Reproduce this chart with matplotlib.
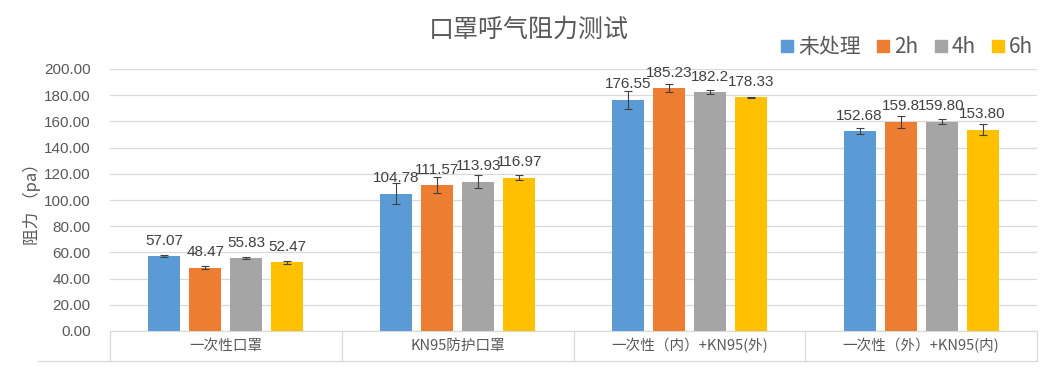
import matplotlib.pyplot as plt
import numpy as np
from matplotlib.lines import Line2D

plt.rcParams['font.family'] = ['Noto Sans CJK SC', 'DejaVu Sans']

categories = ["一次性口罩", "KN95防护口罩", "一次性（内）+KN95(外)", "一次性（外）+KN95(内)"]
series_names = ["未处理", "2h", "4h", "6h"]
values = [
    [57.07, 104.78, 176.55, 152.68],
    [48.47, 111.57, 185.23, 159.80],
    [55.83, 113.93, 182.20, 159.80],
    [52.47, 116.97, 178.33, 153.80],
]
errors = [
    [0.6, 8.0, 7.0, 2.0],
    [1.5, 6.0, 3.0, 4.5],
    [0.6, 5.0, 1.5, 2.0],
    [1.0, 2.0, 0.5, 4.5],
]
labels = [
    ["57.07", "104.78", "176.55", "152.68"],
    ["48.47", "111.57", "185.23", "159.8"],
    ["55.83", "113.93", "182.2", "159.80"],
    ["52.47", "116.97", "178.33", "153.80"],
]
colors = ["#5B9BD5", "#ED7D31", "#A5A5A5", "#FFC000"]
y_ticks = [0, 20, 40, 60, 80, 100, 120, 140, 160, 180, 200]

grid_color = "#D9D9D9"
text_color = "#595959"
narrow = ["Liberation Sans", "DejaVu Sans"]

fig = plt.figure(figsize=(10.57, 3.92), dpi=100)
ax = fig.add_axes([110 / 1057, 61 / 392, 927 / 1057, 262 / 392])

x = np.arange(len(categories))
width = 0.138
pitch = 0.177
for i, name in enumerate(series_names):
    pos = x + (i - 1.5) * pitch
    ax.bar(pos, values[i], width, color=colors[i], label=name, zorder=3,
           yerr=errors[i], error_kw=dict(ecolor="#404040", elinewidth=0.8, capsize=3, capthick=0.8))
    for p, v, lab in zip(pos, values[i], labels[i]):
        ax.annotate(lab, (p, v), xytext=(0, 6), textcoords="offset points",
                    ha="center", va="bottom", fontsize=11, color="#404040",
                    family=narrow, zorder=4)

ax.set_xlim(-0.5, len(categories) - 0.5)
ax.set_ylim(0, 200)
ax.set_yticks(y_ticks)
ax.set_yticklabels([f"{t:.2f}" for t in y_ticks], fontsize=11, color=text_color,
                   family=narrow)
ax.tick_params(axis="y", length=0, pad=14)
ax.set_xticks([])
ax.grid(axis="y", color=grid_color, linewidth=0.9, zorder=0)
for s in ["top", "right", "left"]:
    ax.spines[s].set_visible(False)
ax.spines["bottom"].set_color(grid_color)

# category box under the axis
trans = ax.get_xaxis_transform()
box_depth = -30 / 262
for b in np.arange(len(categories) + 1) - 0.5:
    ax.plot([b, b], [0, box_depth], color=grid_color, linewidth=0.9,
            transform=trans, clip_on=False)
ax.plot([-0.81, len(categories) - 0.5], [box_depth, box_depth], color=grid_color,
        linewidth=0.9, transform=trans, clip_on=False)
for xi, cat in zip(x, categories):
    ax.text(xi, box_depth / 2, cat, ha="center", va="center", fontsize=10.5,
            color=text_color, transform=trans)

ax.set_ylabel("阻力 （pa）", fontsize=12, color=text_color, labelpad=2)

fig.text(0.5, 0.925, "口罩呼气阻力测试", ha="center", va="center", fontsize=18,
         color=text_color)

handles = [Line2D([0], [0], marker="s", linestyle="", markersize=8,
                  markerfacecolor=c, markeredgecolor=c) for c in colors]
fig.legend(handles, series_names, loc="center right", bbox_to_anchor=(0.985, 0.88),
           ncol=4, frameon=False, fontsize=15, handletextpad=0.0, handlelength=1.0,
           columnspacing=0.6, labelcolor=text_color, borderaxespad=0)

fig.savefig("out.png", dpi=100)
